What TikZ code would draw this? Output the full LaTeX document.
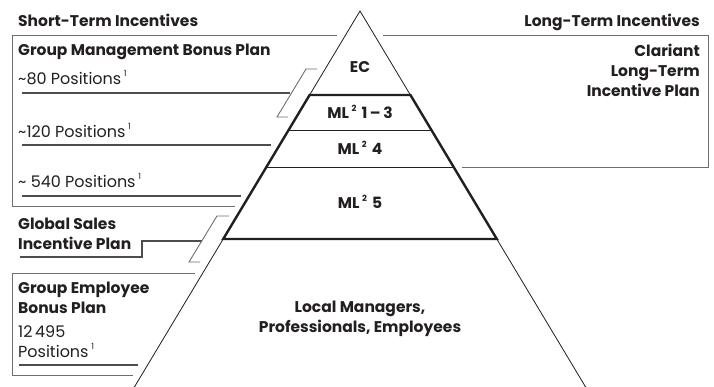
\documentclass[tikz,border=0pt]{standalone}
\usepackage{fontspec}
\setmainfont{Poppins}
\definecolor{txt}{HTML}{231F20}
\definecolor{boxc}{HTML}{6D6E71}
\definecolor{ulc}{HTML}{4D4D4F}
\newcommand{\supnum}[1]{\,\raisebox{0.5em}{\fontsize{8.5}{9}\selectfont #1}}
\begin{document}
\begin{tikzpicture}[x=1pt,y=-1pt,
  hd/.style={text=txt,font=\fontsize{15.5}{20}\selectfont\bfseries,inner sep=0pt},
  rg/.style={text=txt,font=\fontsize{16}{20}\selectfont,inner sep=0pt},
  boxline/.style={draw=boxc,line width=0.9pt},
  uline/.style={draw=ulc,line width=1.2pt},
  thin/.style={draw=txt,line width=0.8pt},
  thick/.style={draw=txt,line width=2.4pt,line join=miter}]
\useasboundingbox (0,0) rectangle (714,387);
% pyramid
\coordinate (apex) at (360,11);
\coordinate (bl) at (134.4,387);
\coordinate (br) at (585.6,387);
\coordinate (a1) at (309.6,95); \coordinate (b1) at (410.4,95);
\coordinate (a2) at (288.6,130); \coordinate (b2) at (431.4,130);
\coordinate (a3) at (266.4,167); \coordinate (b3) at (453.6,167);
\coordinate (a4) at (223.2,239); \coordinate (b4) at (496.8,239);
\draw[thin] (bl) -- (apex) -- (br);
\draw[thin] (a2) -- (b2);
\draw[thin] (a3) -- (b3);
\draw[thick] (a1) -- (b1) -- (b4) -- (a4) -- cycle;
% pyramid labels
\node[hd,anchor=base] (ec) at (360,73) {EC};
\node[hd,anchor=base] (ml13) at (360,119) {ML\supnum{2}\,\,1\,–\,3};
\node[hd,anchor=base] (ml4) at (360,155) {ML\supnum{2}\,\,4};
\node[hd,anchor=base] (ml5) at (360,209) {ML\supnum{2}\,\,5};
\node[hd,anchor=base,align=center] (loc) at (360,332) {Local Managers,\\Professionals, Employees};
% left headings and box
\node[hd,anchor=base west] (sti) at (18,27) {Short-Term Incentives};
\node[hd,anchor=base east] (lti) at (700,27) {Long-Term Incentives};
\draw[boxline] (337,35) -- (12,35) -- (12,206) -- (235,206);
\node[hd,anchor=base west] (gmbp) at (18,56) {Group Management Bonus Plan};
\node[rg,anchor=base west] (p80) at (18,85) {\textasciitilde80 Positions\supnum{1}};
\draw[uline] (22,93) -- (290,93);
\node[rg,anchor=base west] (p120) at (18,138) {\textasciitilde120 Positions\supnum{1}};
\draw[uline] (22,145) -- (271,145);
\node[rg,anchor=base west] (p540) at (18,188) {\textasciitilde\ 540 Positions\supnum{1}};
\draw[uline] (22,196) -- (241,196);
\draw[boxline] (317,69) -- (306,69) -- (277,117) -- (288,117);
% right box
\draw[boxline] (383,35) -- (708,35) -- (708,167) -- (462,167);
\node[hd,anchor=base east,align=right] (cltip) at (700,97) {Clariant\\Long-Term\\Incentive Plan};
% global sales
\node[hd,anchor=base west,align=left] (gsip) at (18,249) {Global Sales\\Incentive Plan};
\draw[uline] (20,257) -- (142,257) -- (142,241) -- (202,241);
\draw[boxline] (229,216) -- (217,216) -- (189,262) -- (200,262);
% group employee
\draw[boxline] (195,273) -- (12,273) -- (12,375) -- (133,375);
\node[hd,anchor=base west,align=left] (gebp) at (18,313) {Group Employee\\Bonus Plan};
\node[rg,anchor=base west,align=left] (p12) at (18,357) {12\,495\\Positions\supnum{1}};
\draw[uline] (19,365) -- (138,365);
\end{tikzpicture}
\end{document}
